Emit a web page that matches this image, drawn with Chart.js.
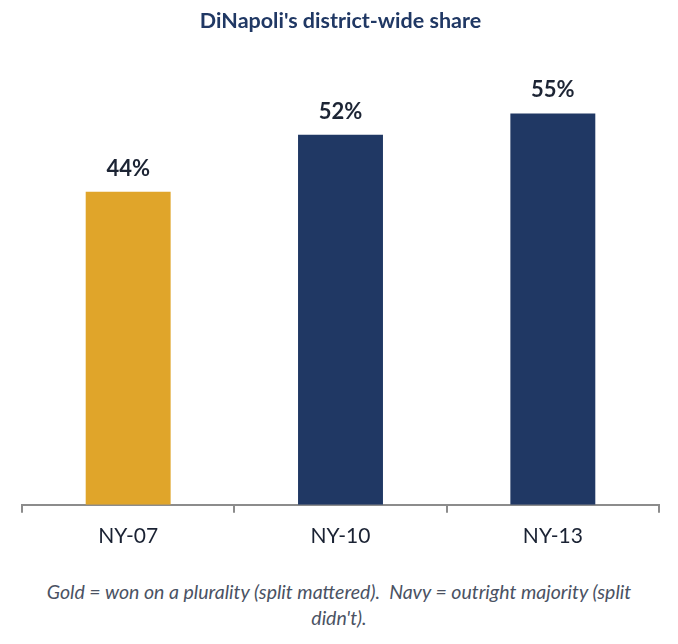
<!DOCTYPE html>
<html>
<head>
<meta charset="utf-8">
<script src="https://cdn.jsdelivr.net/npm/chart.js@4/dist/chart.umd.min.js"></script>
<style>
  body { margin: 0; background: #fff; }
  #wrap { width: 678px; height: 644px; position: relative; }
  #note {
    position: absolute; left: 36px; width: 606px; top: 579px;
    text-align: center; font-family: Lato, "Open Sans", sans-serif; font-style: italic;
    font-size: 19.5px; line-height: 26px; color: #4a5263;
  }
</style>
</head>
<body>
<div id="wrap">
  <canvas id="myChart" width="678" height="574"></canvas>
  <div id="note">Gold = won on a plurality (split mattered).&nbsp; Navy = outright majority (split didn't).</div>
</div>
<script>
let districts = ['NY-07', 'NY-10', 'NY-13']
let shares = [44, 52, 55]
let barColors = ['#e0a52a', '#203864', '#203864']

// draws the "44%" labels above each bar
let valueLabels = {
    id: 'valueLabels',
    afterDatasetsDraw(chart) {
        const ctx = chart.ctx;
        const meta = chart.getDatasetMeta(0);
        ctx.save();
        ctx.font = 'bold 22px Lato, "Open Sans", sans-serif';
        ctx.fillStyle = '#1c2434';
        ctx.textAlign = 'center';
        ctx.textBaseline = 'bottom';
        meta.data.forEach((bar, i) => {
            ctx.fillText(shares[i] + '%', bar.x, bar.y - 12);
        });
        ctx.restore();
    }
}

const ctx = document.getElementById('myChart');

const config = {
    type: 'bar',
    data: {
        labels: districts,
        datasets: [{
            data: shares,
            backgroundColor: barColors,
            categoryPercentage: 0.4,
            barPercentage: 1.0
        }]
    },
    options: {
        responsive: false,
        animation: false,
        layout: { padding: { left: 22, right: 19, bottom: 14 } },
        plugins: {
            legend: { display: false },
            tooltip: { enabled: false },
            title: {
                display: true,
                text: "DiNapoli's district-wide share",
                color: '#203864',
                font: { family: 'Lato, "Open Sans", sans-serif', size: 21.5, weight: 'bold' },
                padding: { top: 8, bottom: 44 }
            }
        },
        scales: {
            y: {
                display: false,
                min: 0,
                max: 60
            },
            x: {
                offset: true,
                grid: {
                    display: true,
                    offset: true,
                    drawOnChartArea: false,
                    tickLength: 8,
                    color: '#8c8c8c',
                    lineWidth: 2
                },
                border: { color: '#8c8c8c', width: 2 },
                ticks: {
                    color: '#1a2233',
                    padding: 11,
                    font: { family: 'Lato, "Open Sans", sans-serif', size: 21 }
                }
            }
        }
    },
    plugins: [valueLabels]
};

const chart = new Chart(ctx, config)
</script>
</body>
</html>
